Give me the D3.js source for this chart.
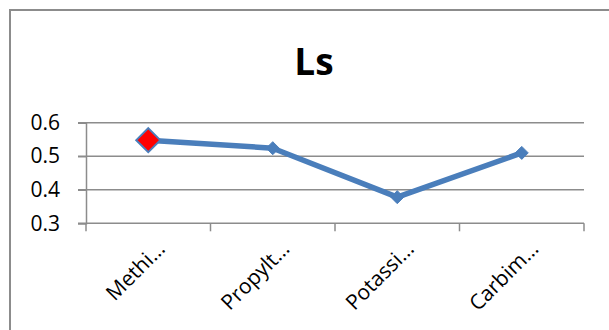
<!DOCTYPE html>
<html>
<head>
<meta charset="utf-8">
<script src="https://cdn.jsdelivr.net/npm/d3@7"></script>
<style>
  html, body { margin: 0; padding: 0; background: #fff; }
  svg { display: block; }
  text { font-family: "Open Sans", "Noto Sans", sans-serif; fill: #000; }
</style>
</head>
<body>
<svg id="chart" width="609" height="330"></svg>
<script>
// Series: Ls per compound
const categories = ["Methi…", "Propylt…", "Potassi…", "Carbim…"];
const values = [0.548, 0.524, 0.378, 0.510];
const yTicks = [0.3, 0.4, 0.5, 0.6];
const highlightIndex = 0;
const title = "Ls";

const svg = d3.select("#chart");
const W = 609, H = 330;

// Chart frame (runs off the right and bottom edges)
svg.append("rect")
  .attr("x", 10).attr("y", 10)
  .attr("width", W + 10).attr("height", H + 10)
  .attr("fill", "#fff")
  .attr("stroke", "#8c8c8c")
  .attr("stroke-width", 2);

const plot = { left: 86, right: 584, top: 122.7, bottom: 223.3 };

const x = d3.scaleBand()
  .domain(categories)
  .range([plot.left, plot.right]);

const y = d3.scaleLinear()
  .domain([0.3, 0.6])
  .range([plot.bottom, plot.top]);

// Title
svg.append("text")
  .attr("x", 314).attr("y", 75)
  .attr("text-anchor", "middle")
  .attr("font-size", 37)
  .attr("font-weight", "bold")
  .text(title);

// Horizontal gridlines
svg.append("g")
  .selectAll("line")
  .data(yTicks.filter(t => t !== 0.3))
  .join("line")
  .attr("x1", plot.left - 8).attr("x2", plot.right)
  .attr("y1", d => y(d)).attr("y2", d => y(d))
  .attr("stroke", "#8c8c8c").attr("stroke-width", 1.5);

// Y axis
const yAxis = svg.append("g")
  .attr("transform", `translate(${plot.left},0)`)
  .call(d3.axisLeft(y).tickValues(yTicks).tickFormat(d3.format(".1f")).tickSize(8).tickPadding(18));
yAxis.select(".domain").attr("stroke", "#8c8c8c").attr("stroke-width", 1.5);
yAxis.selectAll(".tick line").attr("stroke", "#8c8c8c").attr("stroke-width", 1.5);
yAxis.selectAll(".tick text")
  .attr("font-size", 21)
  .attr("font-family", "'Open Sans', sans-serif")
  .attr("fill", "#000");

// X axis with boundary ticks
const xg = svg.append("g");
xg.append("line")
  .attr("x1", plot.left - 8).attr("x2", plot.right)
  .attr("y1", plot.bottom).attr("y2", plot.bottom)
  .attr("stroke", "#8c8c8c").attr("stroke-width", 1.5);
const bounds = categories.map(c => x(c)).concat([x(categories[categories.length - 1]) + x.bandwidth()]);
xg.selectAll("line.tk")
  .data(bounds)
  .join("line")
  .attr("class", "tk")
  .attr("x1", d => d).attr("x2", d => d)
  .attr("y1", plot.bottom).attr("y2", plot.bottom + 8)
  .attr("stroke", "#8c8c8c").attr("stroke-width", 1.5);

xg.selectAll("text")
  .data(categories)
  .join("text")
  .attr("transform", d => `translate(${x(d) + x.bandwidth() / 2 + 18},${plot.bottom + 27}) rotate(-45)`)
  .attr("text-anchor", "end")
  .attr("font-size", 21)
  .text(d => d);

// Series line
const cx = (d, i) => x(categories[i]) + x.bandwidth() / 2;
const line = d3.line()
  .x((d, i) => cx(d, i))
  .y(d => y(d));

svg.append("path")
  .datum(values)
  .attr("d", line)
  .attr("fill", "none")
  .attr("stroke", "#4a7ebb")
  .attr("stroke-width", 5.5)
  .attr("stroke-linejoin", "round");

// Diamond markers
const diamond = (s) => `M0,${-s}L${s},0L0,${s}L${-s},0Z`;
svg.append("g")
  .selectAll("path")
  .data(values)
  .join("path")
  .attr("transform", (d, i) => `translate(${cx(d, i)},${y(d)})`)
  .attr("d", (d, i) => diamond(i === highlightIndex ? 12 : 6.5))
  .attr("fill", (d, i) => i === highlightIndex ? "#ff0000" : "#4a7ebb")
  .attr("stroke", "#4a7ebb")
  .attr("stroke-width", (d, i) => i === highlightIndex ? 2 : 1);
</script>
</body>
</html>
